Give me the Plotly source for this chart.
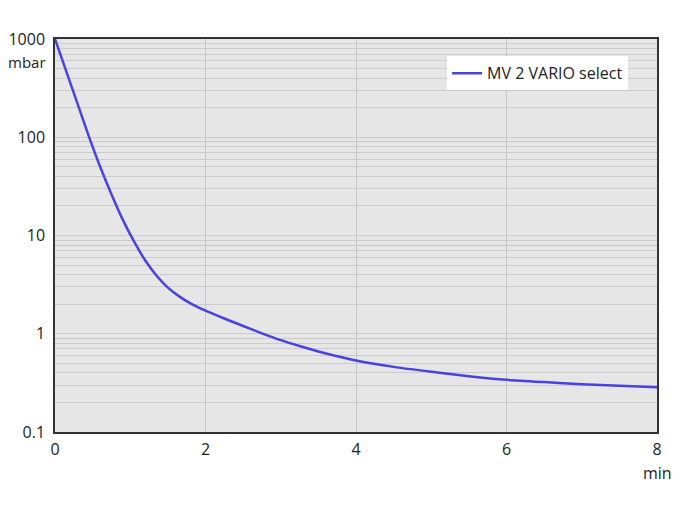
import plotly.graph_objects as go

# data
time_min = [0, 0.15, 0.3, 0.45, 0.6, 0.75, 0.9, 1.05, 1.2, 1.35, 1.5, 1.65, 1.8, 2.0,
            2.25, 2.5, 2.75, 3.0, 3.25, 3.5, 3.75, 4.0, 4.5, 5.0, 5.5, 6.0, 6.5, 7.0, 7.5, 8.0]
pressure_mbar = [1000, 468, 219, 102, 50, 26.3, 14.5, 8.7, 5.56, 3.89, 2.95, 2.40, 2.04, 1.72,
                 1.43, 1.2, 1.01, 0.86, 0.75, 0.66, 0.59, 0.535, 0.46, 0.41, 0.37, 0.34, 0.322, 0.307, 0.295, 0.285]
series_name = "MV 2 VARIO select"

x_ticks = [0, 2, 4, 6, 8]
y_decades = [0.1, 1, 10, 100, 1000]
y_decade_labels = ["0.1", "1", "10", "100", "1000"]

y_tickvals = []
y_ticktext = []
for d, lab in zip(y_decades, y_decade_labels):
    y_tickvals.append(d)
    y_ticktext.append(lab)
    if d < 1000:
        for m in range(2, 10):
            y_tickvals.append(d * m)
            y_ticktext.append("")

FONT = "Open Sans, sans-serif"

fig = go.Figure()
fig.add_trace(go.Scatter(
    x=time_min, y=pressure_mbar, mode="lines", name=series_name,
    line=dict(color="#4b40e0", width=2.5, shape="spline", smoothing=0.6),
))

# the page body has an 8px default margin, so margins are shifted to compensate
fig.update_layout(
    width=689, height=521,
    margin=dict(l=47, r=40, t=31, b=97),
    paper_bgcolor="white", plot_bgcolor="#e6e6e6",
    font=dict(family=FONT, size=16, color="#222"),
    showlegend=True,
    legend=dict(x=0.952, y=0.956, xanchor="right", yanchor="top",
                bgcolor="white", borderwidth=0, font=dict(size=16, color="#222"),
                itemwidth=30, tracegroupgap=0),
    xaxis=dict(range=[0, 8], tickvals=x_ticks, ticktext=[str(v) for v in x_ticks],
               showgrid=True, gridcolor="#c6c6c6", gridwidth=1, zeroline=False,
               showline=True, linecolor="#333", linewidth=1.5, mirror=True,
               ticks="", ticklen=0, automargin=False, ticklabelstandoff=2),
    yaxis=dict(type="log", range=[-1, 3], tickmode="array", tickvals=y_tickvals,
               ticktext=y_ticktext, showgrid=True, gridcolor="#cbcbcb", gridwidth=1,
               zeroline=False, showline=True, linecolor="#333", linewidth=1.5,
               mirror=True, ticks="", ticklen=0, automargin=False, ticklabelstandoff=5),
    annotations=[
        dict(text="mbar", xref="paper", yref="paper", x=0, y=1, xanchor="right",
             yanchor="top", xshift=-7, yshift=-11, showarrow=False,
             font=dict(size=15, color="#222")),
        dict(text="min", xref="paper", yref="paper", x=1, y=0, xanchor="center",
             yanchor="top", yshift=-28, showarrow=False,
             font=dict(size=16, color="#222")),
    ],
)

fig.write_html("out.html")
